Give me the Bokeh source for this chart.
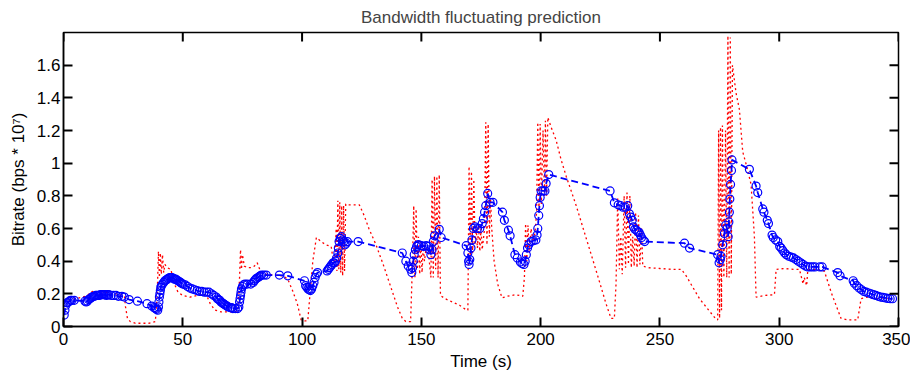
import math
from bokeh.plotting import figure
from bokeh.models import FixedTicker, Range1d
from bokeh.embed import file_html
from bokeh.resources import INLINE

TITLE = "Bandwidth fluctuating prediction"
X_LABEL = "Time (s)"
Y_LABEL = "Bitrate (bps * 10\u2077)"

X_MIN, X_MAX = 0, 350
Y_MIN, Y_MAX = 0, 1.8
x_ticks = [0, 50, 100, 150, 200, 250, 300, 350]
x_tick_labels = ["0", "50", "100", "150", "200", "250", "300", "350"]
y_ticks = [0, 0.2, 0.4, 0.6, 0.8, 1, 1.2, 1.4, 1.6]
y_tick_labels = ["0", "0.2", "0.4", "0.6", "0.8", "1", "1.2", "1.4", "1.6"]

# actual bandwidth (red dotted)
time_actual = [
    0, 2, 5, 8, 10, 12, 14, 16, 18, 20, 22, 24, 25.5, 26, 26.8, 28, 30, 33, 36, 38.5,
    39.3, 39.8, 40.2, 40.6, 41.0, 41.5, 42.0, 42.5, 43.5, 45, 46.5, 48, 50, 53, 56, 58, 60,
    61.5, 63.5, 66, 69, 72, 73.2, 73.8, 74.2, 74.6, 75.0, 75.8, 77, 78.6, 80, 81.2, 82.5,
    84.5, 88, 92, 94, 96, 98, 99.6, 101, 102.4, 103.1, 104.5, 106, 108, 110, 112.2, 113.6,
    114.3, 114.6, 115.0, 115.4, 115.8, 116.2, 116.6, 117.0, 117.4, 117.8, 118.3, 119.5, 122,
    124, 126, 128, 131, 134, 137, 140, 142, 143.5, 145.5, 146.3, 146.8, 147.3, 147.8, 148.3,
    148.8, 149.3, 149.8, 150.3, 150.8, 151.3, 152, 153, 154.0, 154.5, 155.0, 155.5, 156.0,
    156.5, 157.0, 157.5, 158.0, 160, 163, 166, 169, 169.5, 170.0, 170.5, 171.0, 171.5, 172.0,
    172.5, 173.0, 173.5, 174.0, 174.5, 175.0, 175.5, 176.5, 177.0, 177.5, 178.0, 178.5, 179.0,
    179.5, 180.5, 182, 183.8, 186, 189.5, 192.5, 193.2, 193.7, 194.2, 194.7, 195.2, 196, 197,
    197.8, 198.3, 198.8, 199.3, 199.8, 200.3, 201.0, 201.6, 202.0, 202.5, 203.0, 204.4, 206.5,
    208.6, 210.7, 214.9, 219.1, 223.3, 227.4, 229.5, 230.9, 231.6, 232.3, 233.0, 233.6, 234.2,
    235.0, 235.6, 236.2, 236.8, 237.4, 238.0, 238.6, 239.2, 239.8, 240.4, 241.0, 241.6, 242.3,
    242.8, 245, 250, 255, 259, 261, 266.6, 272.1, 273.5, 274.2, 274.6, 275.0, 275.4, 275.8,
    276.2, 276.8, 277.5, 278.0, 278.5, 279.0, 279.5, 279.9, 280.4, 281.9, 283.3, 284.7, 286.2,
    288.2, 289.6, 290.3, 294, 298, 298.7, 302, 306, 308.5, 310, 310.5, 311.5, 312, 315, 318.9,
    322, 325.9, 329, 332.9, 334.3, 337, 340, 344, 347,
]
bitrate_actual = [
    0.16, 0.16, 0.17, 0.18, 0.19, 0.215, 0.2, 0.205, 0.21, 0.2, 0.2, 0.195, 0.19, 0.12, 0.05,
    0.03, 0.02, 0.02, 0.02, 0.03,
    0.2, 0.46, 0.3, 0.45, 0.32, 0.44, 0.33, 0.38, 0.36, 0.35, 0.26, 0.21, 0.19, 0.18, 0.19,
    0.2, 0.19,
    0.14, 0.1, 0.09, 0.09, 0.09, 0.1, 0.3, 0.47, 0.35, 0.44, 0.37, 0.36, 0.36, 0.37, 0.39,
    0.34,
    0.32, 0.315, 0.31, 0.29, 0.22, 0.14, 0.04, 0.035, 0.035, 0.16, 0.4, 0.545, 0.52, 0.5,
    0.49, 0.35,
    0.6, 0.34, 0.77, 0.35, 0.76, 0.33, 0.74, 0.31, 0.74, 0.34, 0.75, 0.745, 0.745,
    0.745, 0.68, 0.6, 0.5, 0.38, 0.25, 0.12, 0.05, 0.03, 0.03, 0.4, 0.74, 0.3, 0.72, 0.35,
    0.55, 0.32, 0.52, 0.33, 0.5, 0.4, 0.48, 0.45, 0.3, 0.9, 0.3, 0.92, 0.35,
    0.92, 0.3, 0.93, 0.19, 0.17, 0.15, 0.13, 0.1, 0.1, 0.98, 0.4, 0.95, 0.45, 0.9,
    0.5, 0.6, 0.48, 0.62, 0.46, 0.6, 0.47, 0.6, 1.25, 0.5, 1.24, 0.55, 0.78,
    0.6, 0.4, 0.26, 0.175, 0.185, 0.195, 0.185, 0.3, 0.63, 0.4, 0.62, 0.45, 0.6, 0.5,
    0.6, 0.7, 1.25, 0.7, 1.24, 0.75, 1.2, 0.8, 1.26, 0.8, 1.28, 1.22, 1.14,
    1.02, 0.92, 0.74, 0.54, 0.34, 0.14, 0.05, 0.05, 0.26, 0.79, 0.35, 0.55, 0.32,
    0.8, 0.36, 0.82, 0.38, 0.8, 0.36, 0.55, 0.37, 0.7, 0.36, 0.68, 0.38, 0.6,
    0.37, 0.36, 0.355, 0.35, 0.35, 0.31, 0.17, 0.07, 0.045, 0.04, 1.2, 0.05, 1.22, 0.1,
    1.23, 0.3, 1.2, 0.3, 1.78, 0.3, 1.77, 0.32, 1.6, 1.43, 1.33, 1.07, 0.99,
    0.87, 0.55, 0.18, 0.19, 0.195, 0.35, 0.355, 0.35, 0.35, 0.26, 0.3, 0.25, 0.35, 0.35, 0.34,
    0.2, 0.05, 0.04, 0.04, 0.17, 0.18, 0.17, 0.175, 0.165,
]

# predicted bandwidth (blue dashed with circles)
time_pred = [
    0.3, 0.6, 1.0, 1.5, 2.0, 2.5, 3.0, 3.5, 4.5, 9.0, 9.5, 10.0, 10.5, 11.0, 11.5, 12.0, 12.5,
    13.0, 13.5, 14.0, 14.5, 15.0, 15.5, 16.0, 16.5, 17.0, 17.5, 18.0, 18.5, 19.0, 20.0, 21.0,
    22.0, 23.0, 24.5, 25.5, 27.5, 31.0, 35.0, 37.0, 38.0, 38.5, 39.0, 39.5, 39.8, 40.0, 40.2,
    40.4, 40.6, 40.8, 41.0, 41.5, 42.0, 42.5, 43.0, 43.5, 44.0, 44.5, 45.0, 45.5, 46.0, 46.5,
    47.0, 47.5, 48.0, 48.5, 49.0, 49.5, 50.0, 51.0, 52.0, 53.0, 54.0, 55.0, 56.0, 57.0, 58.0,
    59.0, 60.0, 61.0, 62.0, 63.0, 64.0, 64.5, 65.0, 65.5, 66.0, 66.5, 67.0, 67.5, 68.0, 68.5,
    69.0, 70.0, 70.5, 71.0, 72.0, 73.0, 73.5, 73.8, 74.0, 74.2, 74.4, 74.6, 75.0, 75.5, 76.0,
    77.0, 78.5, 79.5, 80.0, 80.5, 81.0, 81.5, 82.0, 82.5, 83.0, 84.0, 85.0, 90.5, 94.0, 101.0,
    101.5, 102.0, 102.5, 103.0, 103.5, 104.0, 104.5, 105.0, 105.5, 106.0, 106.5, 110.5, 111.0,
    111.5, 112.0, 112.5, 113.0, 113.5, 114.0, 114.5, 115.0, 115.2, 115.5, 116.0, 116.5, 117.0,
    117.5, 118.0, 118.5, 119.0, 123.5, 142.0, 143.5, 144.5, 145.5, 146.0, 146.3, 146.6, 147.0,
    147.5, 148.0, 148.5, 149.0, 150.0, 151.0, 152.0, 153.0, 153.5, 154.0, 154.5, 155.0, 155.5,
    157.5, 158.3, 168.8, 169.5, 169.8, 170.0, 170.3, 170.8, 171.2, 171.8, 172.5, 173.5, 174.5,
    175.5, 176.0, 176.5, 177.0, 177.8, 178.8, 180.0, 184.0, 184.8, 186.5, 187.2, 189.2, 190.2,
    191.5, 192.2, 193.0, 193.5, 194.0, 194.5, 195.0, 196.0, 197.0, 198.0, 198.5, 198.8, 199.2,
    199.5, 199.8, 200.2, 201.0, 201.8, 202.3, 203.4, 229.1, 230.9, 232.5, 233.5, 234.5, 235.5,
    236.5, 237.2, 237.8, 238.4, 238.9, 239.5, 240.2, 240.8, 241.3, 241.8, 242.3, 243.0, 243.6,
    260.3, 262.4, 274.2, 274.8, 275.3, 275.6, 276.3, 277.0, 277.6, 278.2, 278.6, 278.9, 279.1,
    279.3, 279.6, 280.0, 280.2, 287.5, 290.3, 291.0, 293.1, 293.6, 295.0, 295.5, 297.0, 297.5,
    298.5, 299.4, 300.2, 300.8, 301.5, 302.3, 303.0, 304.0, 305.0, 306.0, 307.0, 308.0, 309.0,
    310.0, 311.0, 312.0, 313.0, 314.0, 315.0, 317.0, 318.0, 324.5, 325.5, 331.0, 331.5, 332.5,
    333.5, 334.5, 335.5, 336.5, 337.5, 338.5, 339.5, 340.5, 341.5, 342.5, 343.5, 344.5, 345.5,
    346.5, 347.5,
]
bitrate_pred = [
    0.07, 0.10, 0.13, 0.145, 0.15, 0.155, 0.16, 0.16, 0.16, 0.155, 0.15, 0.155, 0.165, 0.17,
    0.175, 0.18, 0.185, 0.185, 0.19, 0.19, 0.19, 0.19, 0.195, 0.195, 0.195, 0.195, 0.195, 0.19,
    0.195, 0.195, 0.19, 0.19, 0.19, 0.185, 0.185, 0.18, 0.165, 0.155, 0.14, 0.125, 0.115, 0.11,
    0.105, 0.1, 0.12, 0.15, 0.18, 0.2, 0.22, 0.24, 0.25, 0.26, 0.27, 0.28, 0.285, 0.29, 0.295,
    0.3, 0.3, 0.3, 0.295, 0.29, 0.29, 0.285, 0.28, 0.275, 0.27, 0.265, 0.26, 0.255, 0.245,
    0.235, 0.23, 0.225, 0.22, 0.215, 0.215, 0.21, 0.21, 0.21, 0.2, 0.19, 0.18, 0.17, 0.165,
    0.16, 0.15, 0.145, 0.14, 0.135, 0.13, 0.125, 0.12, 0.115, 0.115, 0.11, 0.11, 0.11, 0.12,
    0.15, 0.17, 0.19, 0.21, 0.23, 0.245, 0.255, 0.26, 0.26, 0.26, 0.27, 0.28, 0.29, 0.295, 0.3,
    0.305, 0.31, 0.315, 0.315, 0.315, 0.315, 0.31, 0.28, 0.25, 0.24, 0.23, 0.225, 0.22, 0.23,
    0.25, 0.27, 0.3, 0.32, 0.33, 0.34, 0.35, 0.36, 0.37, 0.38, 0.39, 0.39, 0.4, 0.42, 0.45,
    0.48, 0.52, 0.54, 0.55, 0.53, 0.52, 0.5, 0.51, 0.52, 0.52, 0.45, 0.40, 0.37, 0.35, 0.33,
    0.36, 0.40, 0.44, 0.47, 0.49, 0.5, 0.5, 0.495, 0.49, 0.495, 0.49, 0.47, 0.44, 0.47, 0.52,
    0.555, 0.595, 0.545, 0.495, 0.45, 0.40, 0.38, 0.41, 0.48, 0.53, 0.6, 0.61, 0.6, 0.6, 0.63,
    0.66, 0.7, 0.74, 0.815, 0.76, 0.76, 0.7, 0.65, 0.59, 0.555, 0.44, 0.42, 0.395, 0.385, 0.38,
    0.40, 0.44, 0.48, 0.5, 0.52, 0.525, 0.53, 0.56, 0.6, 0.68, 0.74, 0.79, 0.83, 0.83, 0.83,
    0.875, 0.93, 0.83, 0.757, 0.745, 0.74, 0.73, 0.73, 0.74, 0.69, 0.67, 0.65, 0.61, 0.595,
    0.59, 0.58, 0.575, 0.56, 0.545, 0.53, 0.52, 0.51, 0.48, 0.44, 0.39, 0.41, 0.43, 0.5, 0.57,
    0.62, 0.6, 0.55, 0.64, 0.7, 0.78, 0.87, 0.955, 1.02, 0.962, 0.86, 0.82, 0.72, 0.70, 0.65,
    0.63, 0.56, 0.545, 0.53, 0.52, 0.49, 0.48, 0.465, 0.45, 0.44, 0.43, 0.425, 0.42, 0.41, 0.40,
    0.39, 0.38, 0.37, 0.365, 0.365, 0.365, 0.365, 0.365, 0.365, 0.33, 0.31, 0.28, 0.265, 0.25,
    0.235, 0.225, 0.215, 0.21, 0.205, 0.2, 0.195, 0.19, 0.185, 0.18, 0.178, 0.175, 0.172,
    0.17, 0.17,
]

FONT = "Liberation Sans"
FS = "17px"

p = figure(
    width=910, height=374,
    x_range=Range1d(X_MIN, X_MAX), y_range=Range1d(Y_MIN, Y_MAX),
    output_backend="svg", toolbar_location=None,
    min_border_left=63, min_border_right=12, min_border_top=29, min_border_bottom=48,
    title=TITLE,
)
p.title.text_font = FONT
p.title.text_font_size = FS
p.title.text_font_style = "normal"
p.title.align = "center"
p.title.standoff = 11
p.xgrid.visible = False
p.ygrid.visible = False
p.outline_line_color = "black"
p.outline_line_width = 1.5
p.background_fill_color = "white"
p.border_fill_color = "white"

p.line(time_actual, bitrate_actual, line_color="#ff0000", line_width=1.3, line_dash="2 3")
p.line(time_pred, bitrate_pred, line_color="#0000ff", line_width=1.8, line_dash="7 4")
p.scatter(time_pred, bitrate_pred, marker="circle", size=8, fill_color=None,
          line_color="#0000ff", line_width=1.2)

# tick marks on the top and right edges of the box (inner half only shows)
p.scatter(x_ticks, [Y_MAX] * len(x_ticks), marker="dash", size=18, angle=math.pi / 2,
          line_color="black", line_width=2)
p.scatter([X_MAX] * len(y_ticks), y_ticks, marker="dash", size=18,
          line_color="black", line_width=2)

for ax, ticks, labels in ((p.xaxis[0], x_ticks, x_tick_labels),
                          (p.yaxis[0], y_ticks, y_tick_labels)):
    ax.ticker = FixedTicker(ticks=ticks)
    ax.major_label_overrides = {t: l for t, l in zip(ticks, labels)}
    ax.minor_tick_line_color = None
    ax.major_tick_in = 9
    ax.major_tick_out = 0
    ax.axis_line_color = "black"
    ax.axis_line_width = 1.5
    ax.major_tick_line_color = "black"
    ax.major_tick_line_width = 2
    ax.major_label_text_font = FONT
    ax.major_label_text_font_size = FS
    ax.major_label_text_color = "black"
    ax.axis_label_text_font = FONT
    ax.axis_label_text_font_style = "normal"
    ax.axis_label_text_font_size = FS
    ax.axis_label_text_color = "black"

p.xaxis[0].axis_label = X_LABEL
p.yaxis[0].axis_label = Y_LABEL
p.xaxis[0].major_label_standoff = 6
p.xaxis[0].axis_label_standoff = 4
p.yaxis[0].major_label_standoff = 3
p.yaxis[0].axis_label_standoff = 6

open("out.html", "w").write(file_html(p, INLINE))
